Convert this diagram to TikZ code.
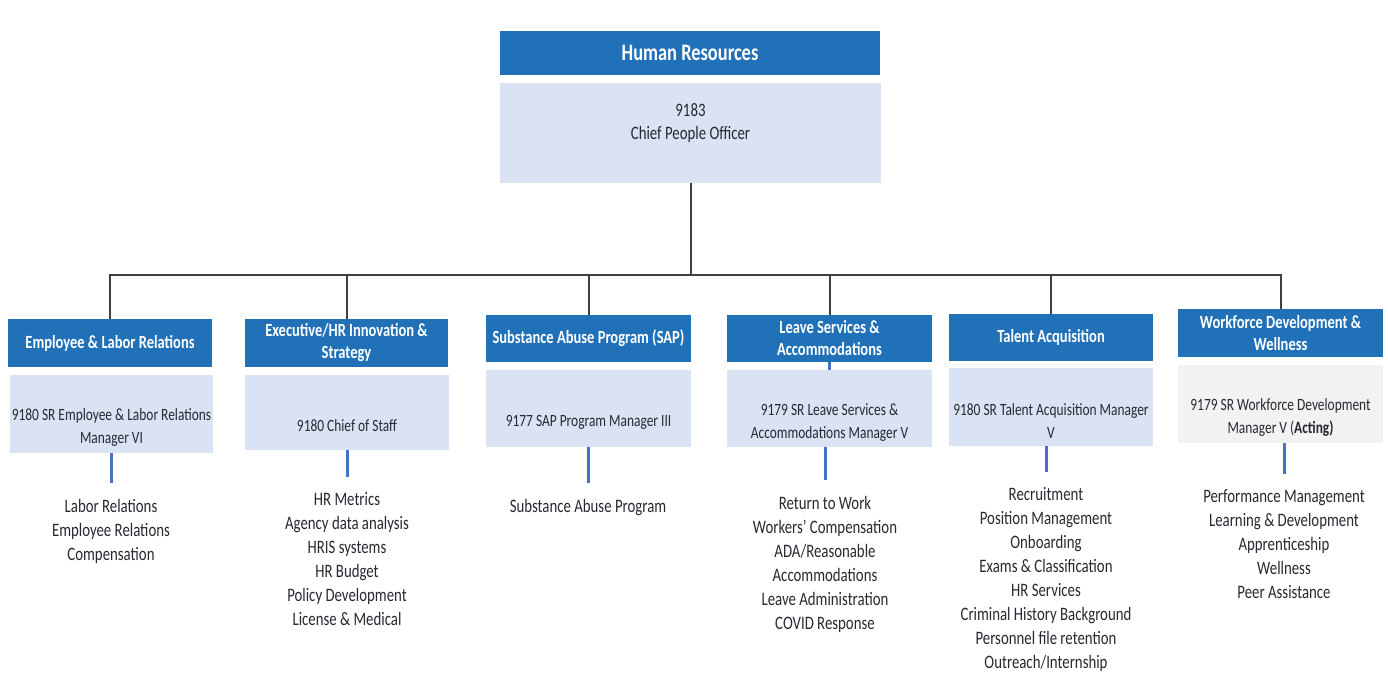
\documentclass[tikz,border=0pt]{standalone}
\usepackage{fontspec}
\setmainfont{Carlito}[FakeStretch=0.78]
\usetikzlibrary{calc}
\definecolor{hrblue}{RGB}{33,113,185}
\definecolor{hrpale}{RGB}{218,227,243}
\definecolor{hrgrey}{RGB}{242,242,242}
\definecolor{linkgray}{RGB}{64,64,64}
\definecolor{tickblue}{RGB}{68,114,196}
\definecolor{inkdark}{RGB}{40,40,50}
\newcommand\topfont{\bfseries\fontsize{11.8}{14}\selectfont}
\newcommand\hdrfont{\bfseries\fontsize{9.3}{11}\selectfont}
\newcommand\postfont{\fontsize{8.6}{11.5}\selectfont}
\newcommand\dutyfont{\fontsize{9.5}{12}\selectfont}
\tikzset{
	unit/.style={fill=hrblue, text=white, font=\hdrfont, align=center, inner sep=0pt},
	post/.style={fill=hrpale, text=inkdark, font=\postfont, align=center, inner sep=0pt},
	duty/.style={text=inkdark, font=\dutyfont, align=center, inner sep=0pt, anchor=north},
	link/.style={draw=linkgray, line width=1pt},
	tick/.style={draw=tickblue, line width=1.5pt, shorten >=7.5pt},
}

\begin{document}
\begin{tikzpicture}[x=0.5pt, y=-0.5pt]
			%%%%% START %%%%%
			\useasboundingbox (0, 0) rectangle (1388, 673);
			
			\node[unit, font=\topfont, minimum width=190pt, minimum height=22pt] (top) at (690, 53) {Human Resources};
			\node[post, font=\fontsize{9.5}{11.5}\selectfont, minimum width=190.5pt, minimum height=50pt] (chief) at (690.5, 133) {9183\\Chief People Officer\\\mbox{}};
			\coordinate (bus) at (690.5, 275);
			
			\node[unit, minimum width=102pt, minimum height=24pt] (hdr1) at (110, 343) {Employee \& Labor Relations};
			\node[unit, minimum width=101.5pt, minimum height=24pt] (hdr2) at (346.5, 343) {Executive/HR Innovation \&\\Strategy};
			\node[unit, minimum width=102.5pt, minimum height=23.5pt] (hdr3) at (588.5, 338.5) {Substance Abuse Program (SAP)};
			\node[unit, minimum width=102.5pt, minimum height=23.5pt] (hdr4) at (829.5, 338.5) {Leave Services \&\\Accommodations};
			\node[unit, minimum width=102pt, minimum height=23.5pt] (hdr5) at (1051, 337.5) {Talent Acquisition};
			\node[unit, minimum width=102.5pt, minimum height=24pt] (hdr6) at (1280.5, 333) {Workforce Development \&\\Wellness};
			
			\node[post, minimum width=101.5pt, minimum height=39pt] (post1) at (111.5, 414) {\strut\\9180 SR Employee \& Labor Relations\\Manager VI};
			\node[post, minimum width=102pt, minimum height=37.5pt] (post2) at (347, 412.5) {\strut\\9180 Chief of Staff};
			\node[post, minimum width=102.5pt, minimum height=38.5pt] (post3) at (588.5, 408.5) {\strut\\9177 SAP Program Manager III};
			\node[post, minimum width=102.5pt, minimum height=38.5pt] (post4) at (829.5, 408.5) {\strut\\9179 SR Leave Services \&\\Accommodations Manager V};
			\node[post, minimum width=102pt, minimum height=39pt] (post5) at (1051, 407) {\strut\\9180 SR Talent Acquisition Manager\\V};
			\node[post, fill=hrgrey, minimum width=102.5pt, minimum height=39pt] (post6) at (1280.5, 404) {\strut\\9179 SR Workforce Development\\Manager V (\textbf{Acting)}};
			
			\node[duty] (duty1) at (111, 498.5) {Labor Relations\\Employee Relations\\Compensation};
			\node[duty] (duty2) at (347, 492.5) {HR Metrics\\Agency data analysis\\HRIS systems\\HR Budget\\Policy Development\\License \& Medical};
			\node[duty] (duty3) at (588, 498.5) {Substance Abuse Program};
			\node[duty] (duty4) at (825, 495.5) {Return to Work\\Workers’ Compensation\\ADA/Reasonable\\Accommodations\\Leave Administration\\COVID Response};
			\node[duty] (duty5) at (1046, 487.5) {Recruitment\\Position Management\\Onboarding\\Exams \& Classification\\HR Services\\Criminal History Background\\Personnel file retention\\Outreach/Internship};
			\node[duty] (duty6) at (1284, 489.5) {Performance Management\\Learning \& Development\\Apprenticeship\\Wellness\\Peer Assistance};
			
			% grey tree
			\draw[link] (chief.south) -- (bus);
			\draw[link] (hdr1.north) |- (bus) -| (hdr6.north);
			\foreach \k in {2,...,5}
				\draw[link] (hdr\k.north) -- (hdr\k.north |- bus);
			
			% blue ticks
			\foreach \k in {1,...,6}
				\draw[tick] (post\k.south -| duty\k.north) -- (duty\k.north);
			\draw[tick, shorten >=0pt] (hdr4.south) -- (post4.north);
			
			%%%%% END %%%%%
\end{tikzpicture}
\end{document}
